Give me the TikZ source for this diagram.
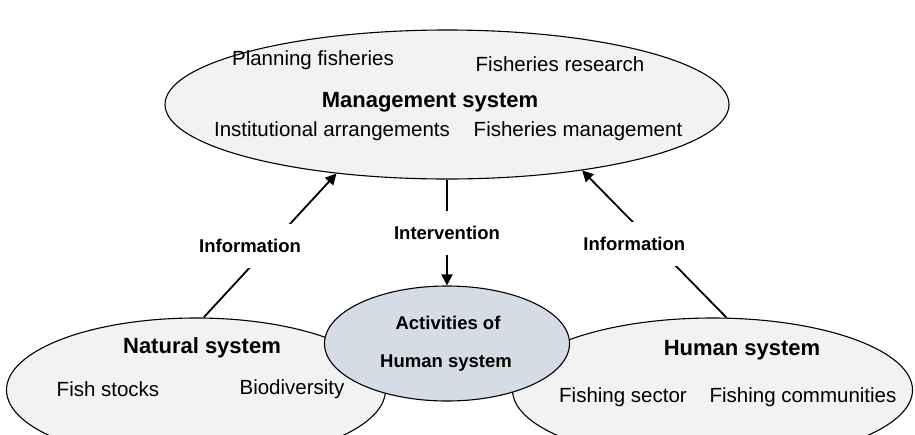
\documentclass[tikz,border=0pt]{standalone}
\usepackage{fontspec}
\setmainfont{Liberation Sans}
\usetikzlibrary{arrows.meta,shapes.geometric}

\begin{document}
\begin{tikzpicture}[x=1pt, y=-1pt,
    sys/.style={draw, ellipse, line width=1.1pt, fill=sysgray, inner sep=0pt},
    item/.style={font=\fontsize{20.5}{24}\selectfont},
    title/.style={font=\fontsize{22}{26}\selectfont\bfseries},
    lbl/.style={font=\fontsize{18.5}{22}\selectfont\bfseries, fill=white, minimum height=44pt, inner xsep=1pt},
    flow/.style={line width=1.8pt, -{Triangle[length=11pt, width=11pt]}}]
                \definecolor{sysgray}{HTML}{F2F2F2}
                \definecolor{actblue}{HTML}{D6DCE5}
                \clip (0, 0) rectangle (915, 434);

                \node[sys, minimum width=564pt, minimum height=149pt] (mgmt) at (447, 104.5) {};
                \node[sys, minimum width=379pt, minimum height=144pt] (nat) at (196, 390) {};
                \node[sys, minimum width=400pt, minimum height=144pt] (hum) at (712.5, 390) {};
                \node[sys, fill=actblue, minimum width=245pt, minimum height=115pt] (act) at (447, 343.5) {};

                \node[item] (plan) at (313, 60) {Planning fisheries};
                \node[item] (research) at (560, 64) {Fisheries research};
                \node[title] (mgmttitle) at (430, 102) {Management system};
                \node[item] (inst) at (332, 131) {Institutional arrangements};
                \node[item] (fman) at (578, 131) {Fisheries management};

                \node[title] (nattitle) at (202, 348) {Natural system};
                \node[item] (stocks) at (108, 389) {Fish stocks};
                \node[item] (bio) at (292, 389) {Biodiversity};

                \node[title] (humtitle) at (742, 350) {Human system};
                \node[item] (sector) at (623, 397) {Fishing sector};
                \node[item] (comm) at (803, 397) {Fishing communities};

                \node[font=\fontsize{18.5}{22}\selectfont\bfseries] (acttop) at (448, 323) {Activities of};
                \node[font=\fontsize{18.5}{22}\selectfont\bfseries] (actbot) at (446, 363) {Human system};

                \draw[flow] (nat.84.6) -- node[lbl, xshift=-20pt] {Information} (mgmt.-148);
                \draw[flow] (hum.79.7) -- node[lbl, xshift=-20pt] {Information} (mgmt.-26.2);
                \draw[flow] (mgmt.south) -- node[lbl] {Intervention} (act.north);
            \end{tikzpicture}
\end{document}
